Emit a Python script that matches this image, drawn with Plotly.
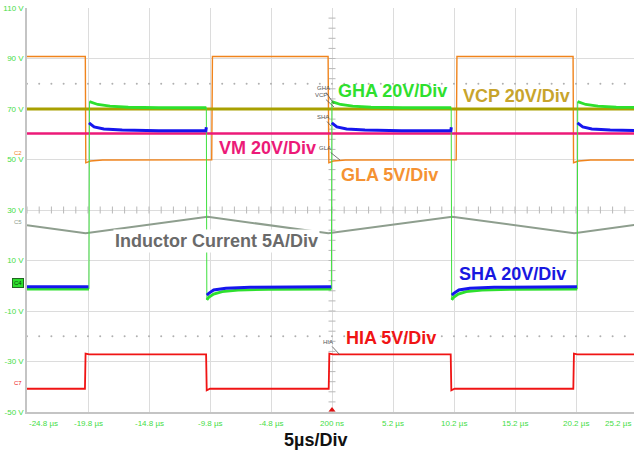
import numpy as np
import plotly.graph_objects as go

# ---------------- data (time in µs, level in screen volts) ----------------
x_grid = [-24.8, -19.8, -14.8, -9.8, -4.8, 0.2, 5.2, 10.2, 15.2, 20.2]
x_tick_labels = ["-24.8 µs", "-19.8 µs", "-14.8 µs", "-9.8 µs", "-4.8 µs", "200 ns",
                 "5.2 µs", "10.2 µs", "15.2 µs", "20.2 µs", "25.2 µs"]
x_tick_pos = [-24.8, -19.8, -14.8, -9.8, -4.8, 0.2, 5.2, 10.2, 15.2, 20.2, 25.2]
y_grid = [110, 90, 70, 50, 30, 10, -10, -30, -50]
y_tick_labels = ["110 V", "90 V", "70 V", "50 V", "30 V", "10 V", "-10 V", "-30 V", "-50 V"]

# Inductor current (C5)
t_il = [-24.8, -20.0, -10.0, -0.1, 10.05, 20.05, 25.2]
v_il = [24.0, 20.8, 27.3, 20.8, 27.3, 20.8, 24.2]

# GLA (orange)
t_gla = [-24.8, -20.02, -19.98, -19.6, -18.6, -9.66, -9.6, -0.12, -0.06, 0.3, 1.3,
         10.38, 10.44, 19.96, 20.0, 20.4, 21.4, 25.2]
v_gla = [90.8, 90.8, 48.7, 49.4, 49.8, 49.9, 90.8, 90.8, 48.7, 49.4, 49.8,
         49.9, 90.8, 90.8, 48.7, 49.4, 49.8, 49.8]

# VM (magenta)
t_vm = [-24.8, 25.2]
v_vm = [60.3, 60.3]

# VCP (olive)
t_vcp = [-24.8, 25.2]
v_vcp = [70.0, 70.0]

# GHA (green)
t_gha = [-24.8, -19.72, -19.68, -19.45, -19.0, -18.0, -16.5, -14.0, -10.1,
         -10.06, -9.9, -9.5, -8.8, -7.5, -5.0, 0.15,
         0.19, 0.42, 0.9, 1.9, 3.4, 6.0, 9.97,
         10.01, 10.17, 10.55, 11.2, 12.5, 15.0, 20.3,
         20.34, 20.57, 21.0, 22.0, 23.5, 25.2]
v_gha = [-1.3, -1.3, 72.9, 72.6, 71.8, 71.1, 70.7, 70.5, 70.5,
         -5.6, -4.6, -3.3, -2.3, -1.7, -1.4, -1.3,
         72.9, 72.6, 71.8, 71.1, 70.7, 70.5, 70.5,
         -5.6, -4.6, -3.3, -2.3, -1.7, -1.4, -1.3,
         72.9, 72.6, 71.8, 71.1, 70.7, 70.6]

# SHA (blue)
t_sha = [-24.8, -19.76, -19.72, -19.3, -18.5, -17.0, -14.0, -10.14, -10.1,
         -10.06, -9.9, -9.5, -8.5, -6.5, -3.0, 0.14,
         0.18, 0.6, 1.4, 2.9, 5.9, 9.94, 9.98,
         10.02, 10.18, 10.6, 11.5, 13.5, 17.0, 20.28,
         20.32, 20.75, 21.5, 23.0, 25.2]
v_sha = [-0.4, -0.4, 64.5, 62.9, 62.1, 61.7, 61.4, 61.4, 62.8,
         -3.7, -3.0, -1.7, -1.0, -0.6, -0.4, -0.4,
         64.5, 62.9, 62.1, 61.7, 61.4, 61.4, 62.8,
         -3.7, -3.0, -1.7, -1.0, -0.6, -0.4, -0.4,
         64.5, 62.9, 62.1, 61.7, 61.5]

# HIA (red)
t_hia = [-24.8, -20.05, -20.0, -19.7, -10.12, -10.07, -9.8, -0.07, -0.02, 0.3,
         9.93, 9.98, 10.25, 19.98, 20.03, 20.3, 25.2]
v_hia = [-40.8, -40.8, -26.9, -27.2, -27.2, -41.4, -40.8, -40.8, -26.9, -27.2,
         -27.2, -41.4, -40.8, -40.8, -26.9, -27.2, -27.2]

# ---------------- helpers ----------------
X0, PX_PER_US = -24.8, 12.2
def tx(px):
    return X0 + (px - 27) / PX_PER_US
def vy(py):
    return (412 - py) / 2.525 - 50

def split_jumps(t, v, thresh=20):
    """Insert gaps where the trace jumps between levels (edges drawn separately)."""
    tt, vv = [t[0]], [v[0]]
    for i in range(1, len(t)):
        if abs(v[i] - v[i - 1]) > thresh:
            tt.append(None); vv.append(None)
        tt.append(t[i]); vv.append(v[i])
    return tt, vv

fig = go.Figure()

# graticule decorations: dotted rows and centre-line ticks
dots_t = np.arange(-24.8, 25.2, 1.0)
for lvl in (80, -20):
    fig.add_trace(go.Scatter(x=dots_t, y=[lvl] * len(dots_t), mode="markers",
                             marker=dict(size=2, color="#b0b0b0"), hoverinfo="skip",
                             showlegend=False))
fig.add_trace(go.Scatter(x=dots_t, y=[30] * len(dots_t), mode="markers",
                         marker=dict(symbol="line-ns", size=5,
                                     line=dict(width=1, color="#b8b8b8")),
                         hoverinfo="skip", showlegend=False))
ticks_v = np.arange(-50, 110, 4.0)
fig.add_trace(go.Scatter(x=[0.2] * len(ticks_v), y=ticks_v, mode="markers",
                         marker=dict(symbol="line-ew", size=5,
                                     line=dict(width=1, color="#b8b8b8")),
                         hoverinfo="skip", showlegend=False))

def add(t, v, color, width):
    fig.add_trace(go.Scatter(x=t, y=v, mode="lines",
                             line=dict(color=color, width=width),
                             hoverinfo="skip", showlegend=False, connectgaps=False))

add(t_il, v_il, "#8e9e8e", 2)
add(t_gla, v_gla, "#f0841c", 1.4)
add(t_vm, v_vm, "#ec1a78", 2.6)
add(t_vcp, v_vcp, "#a8a000", 3.2)
add(t_gha, v_gha, "#3ee03e", 1)            # thin edges
add(*split_jumps(t_gha, v_gha), "#2ee02e", 2.8)
add(*split_jumps(t_sha, v_sha), "#1616ee", 3)
add(t_hia, v_hia, "#f01414", 1.8)

# trigger marker
fig.add_trace(go.Scatter(x=[0.2], y=[-49.2], mode="markers",
                         marker=dict(symbol="triangle-up", size=6, color="#e01010"),
                         cliponaxis=False, hoverinfo="skip", showlegend=False))

BIG = "Liberation Sans, Arial, sans-serif"
annotations = []
def big(text, px, py, color, bg=None):
    d = dict(x=tx(px), y=vy(py), xref="x", yref="y", text="<b>%s</b>" % text,
             showarrow=False, xanchor="left", yanchor="middle",
             font=dict(family=BIG, size=18, color=color))
    if bg:
        d.update(bgcolor=bg, borderpad=1)
    annotations.append(d)

big("GHA 20V/Div", 336, 91, "#2ee02e")
big("VCP 20V/Div", 461, 96, "#c8a42c")
big("VM 20V/Div", 217, 148, "#ec1a78")
big("GLA 5V/Div", 339, 175, "#f59232")
big("Inductor Current 5A/Div", 113, 241, "#6a6a6a", bg="white")
big("SHA 20V/Div", 457, 274, "#1818e0")
big("HIA 5V/Div", 344, 338, "#f01414")

annotations.append(dict(x=(315 - 27) / 607, xref="paper", y=-(440 - 412) / 404, yref="paper",
                        text="<b>5µs/Div</b>", showarrow=False, xanchor="center",
                        yanchor="middle", font=dict(family=BIG, size=18, color="#111")))

# x tick labels
SMALL = "Liberation Sans Narrow, Liberation Sans, Arial, sans-serif"
for i, (pos, lab) in enumerate(zip(x_tick_pos, x_tick_labels)):
    if i == 0:
        xa, xv = "left", pos
    elif i == len(x_tick_pos) - 1:
        xa, xv = "right", tx(633)
    else:
        xa, xv = "center", pos
    annotations.append(dict(x=xv, xref="x", y=-(423 - 412) / 404, yref="paper",
                            text=lab, showarrow=False, xanchor=xa, yanchor="middle",
                            font=dict(family=SMALL, size=8, color="#44dd44")))

# small channel marker labels at centre
def tag(text, px, py, tpx, tpy, color="#555"):
    annotations.append(dict(x=tx(tpx), y=vy(tpy), xref="x", yref="y",
                            ax=px - tpx, ay=py - tpy, text=text, showarrow=True,
                            arrowhead=0, arrowwidth=0.8, arrowcolor="#555",
                            font=dict(family=SMALL, size=6, color=color)))

tag("GHA", 323, 88, 334, 104)
tag("VCP", 321, 95, 334, 107)
tag("SHA", 323, 117, 331, 126)
tag("GLA", 325, 148, 340, 160)
tag("HIA", 328, 342, 340, 355)

# left channel badges
def badge(text, py, color, bg=None):
    d = dict(x=-3 / 607, xref="paper", y=vy(py), yref="y", text=text,
             showarrow=False, xanchor="right", yanchor="middle",
             font=dict(family=SMALL, size=6, color=color))
    if bg:
        d.update(bgcolor=bg, bordercolor="#226622", borderwidth=1, borderpad=1)
    annotations.append(d)

badge("C2", 153, "#f0841c")
badge("C5", 222, "#8e9e8e")
badge("C4", 283, "#0a3a0a", bg="#2ee02e")
badge("C7", 383, "#f01414")

fig.update_layout(
    width=634, height=460,
    margin=dict(l=27, r=0, t=8, b=48, autoexpand=False),
    paper_bgcolor="white", plot_bgcolor="white",
    showlegend=False,
    annotations=annotations,
    xaxis=dict(range=[-24.8, tx(634)], tickvals=x_grid, showticklabels=False,
               showgrid=True, gridcolor="#dcdcdc", gridwidth=1, zeroline=False,
               showline=True, linecolor="#c4c4c4", linewidth=1.5, ticks="",
               fixedrange=True, automargin=False),
    yaxis=dict(range=[-50, 110], tickvals=y_grid, ticktext=y_tick_labels,
               showgrid=True, gridcolor="#dcdcdc", gridwidth=1, zeroline=False,
               showline=True, linecolor="#c4c4c4", linewidth=1.5, ticks="",
               tickfont=dict(family=SMALL, size=8, color="#44dd44"),
               fixedrange=True, automargin=False),
)

fig.write_html("out.html", config={"displayModeBar": False},
               post_script="document.body.style.margin='0';document.body.style.overflow='hidden';")
